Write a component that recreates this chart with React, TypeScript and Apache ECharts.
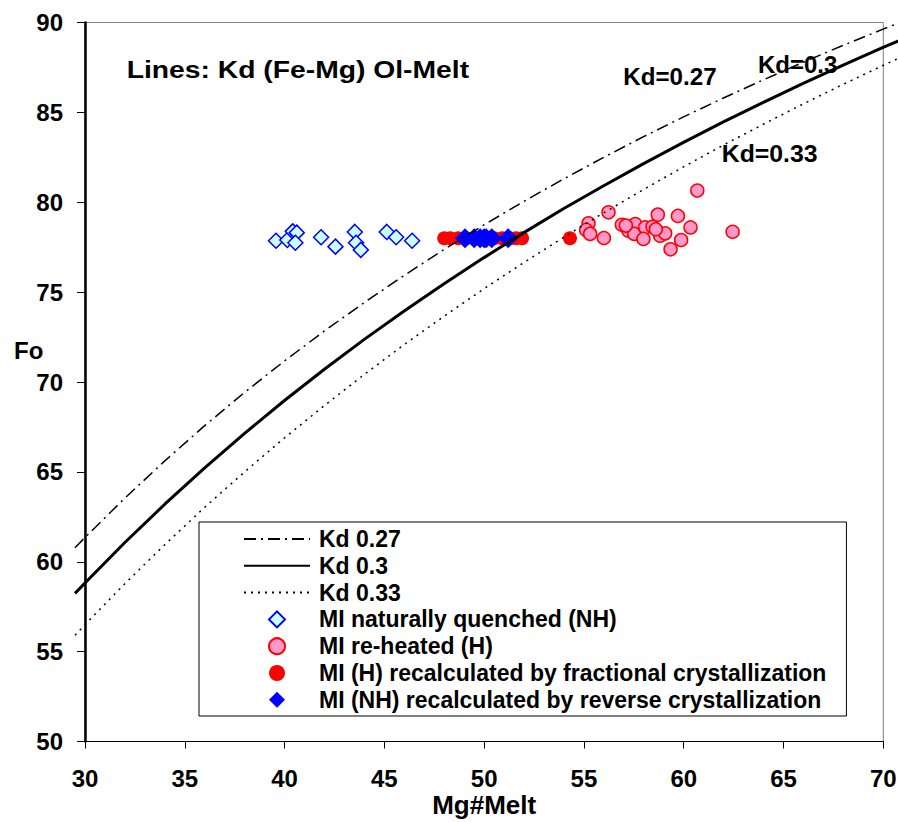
import React, { useEffect, useRef } from "react";
import * as echarts from "echarts";

// Model curves (Fo vs Mg# melt)
const kdX = [29.5, 30, 32, 34, 36, 38, 40, 42, 44, 46, 48, 50, 52, 54, 56, 58, 60, 62, 64, 66, 68, 70, 72];
const kd027 = [60.78, 61.35, 63.54, 65.61, 67.57, 69.42, 71.17, 72.84, 74.42, 75.93, 77.37, 78.74, 80.05, 81.3, 82.5, 83.65, 84.75, 85.8, 86.81, 87.79, 88.73, 89.63, 90.5];
const kd030 = [58.24, 58.82, 61.07, 63.2, 65.22, 67.14, 68.97, 70.71, 72.37, 73.95, 75.47, 76.92, 78.31, 79.65, 80.92, 82.15, 83.33, 84.47, 85.56, 86.61, 87.63, 88.61, 89.55];
const kd033 = [55.91, 56.5, 58.78, 60.95, 63.03, 65.0, 66.89, 68.69, 70.42, 72.08, 73.66, 75.19, 76.65, 78.06, 79.41, 80.71, 81.97, 83.18, 84.34, 85.47, 86.56, 87.61, 88.63];

// MI naturally quenched (NH)
const nhX = [39.57, 40.14, 40.41, 40.61, 40.54, 41.83, 42.55, 43.52, 43.58, 43.82, 45.12, 45.59, 46.39];
const nhY = [77.86, 77.9, 78.38, 78.31, 77.75, 78.05, 77.53, 78.35, 77.75, 77.35, 78.35, 78.05, 77.86];

// MI re-heated (H)
const hX = [60.68, 56.23, 55.23, 55.11, 55.31, 56.0, 56.9, 57.23, 57.57, 57.52, 58.07, 57.98, 58.7, 58.44, 58.82, 59.07, 59.34, 59.71, 59.87, 60.34, 62.45, 58.6, 57.1];
const hY = [80.65, 79.44, 78.83, 78.46, 78.24, 78.01, 78.75, 78.42, 78.79, 78.24, 78.6, 77.96, 79.31, 78.64, 78.14, 78.27, 77.38, 79.24, 77.9, 78.6, 78.36, 78.5, 78.7];

// MI (H) recalculated by fractional crystallization
const hRecX = [48.0, 48.3, 48.7, 49.1, 49.6, 50.0, 50.5, 50.9, 51.3, 51.6, 51.9, 54.3];
const hRecY = [78, 78, 78, 78, 78, 78, 78, 78, 78, 78, 78, 78];

// MI (NH) recalculated by reverse crystallization
const nhRecX = [49.04, 49.5, 49.8, 50.0, 50.1, 50.38, 51.2];
const nhRecY = [78, 78, 78, 78, 78, 78, 78];

const xMin = 30, xMax = 70, xStep = 5;
const yMin = 50, yMax = 90, yStep = 5;
// the Kd curves run a little past the plot frame on both sides
const curveXMin = 29.5, curveXMax = 70.75;

const FONT = "'Liberation Sans', Arial, sans-serif";
const DIAMOND_ICON = "path://M0,-1L1,0L0,1L-1,0Z";

const zip = (a: number[], b: number[]) => a.map((v, i) => [v, b[i]]);

export default function App() {
  const ref = useRef<HTMLDivElement>(null);
  useEffect(() => {
    if (!ref.current) return;
    const chart = echarts.init(ref.current, null, { renderer: "svg" });
    const txt = { color: "#000", fontWeight: "bold" as const, fontFamily: FONT };
    const hiddenLegendSymbol = { color: "rgba(0,0,0,0)", borderWidth: 0, opacity: 0 };
    const textEl = (text: string, x: number, y: number, fontSize: number, scaleX = 1) => ({
      type: "text",
      x,
      y,
      scaleX,
      z: 10,
      style: { text, fontSize, fontWeight: "bold", fontFamily: FONT, fill: "#000", verticalAlign: "middle", align: "left" },
    });
    chart.setOption({
      animation: false,
      backgroundColor: "#fff",
      grid: [
        {
          left: 85,
          right: 14.7,
          top: 22.5,
          bottom: 80.5,
          show: true,
          borderColor: "#808080",
          borderWidth: 1,
          containLabel: false,
          outerBoundsMode: "none",
        },
        { left: 75, right: 0, top: 22.5, bottom: 80.5, show: false, containLabel: false, outerBoundsMode: "none" },
      ],
      xAxis: [
        {
          type: "value",
          gridIndex: 0,
          min: xMin,
          max: xMax,
          interval: xStep,
          name: "Mg#Melt",
          nameLocation: "middle",
          nameGap: 50,
          nameMoveOverlap: false,
          nameTextStyle: { ...txt, fontSize: 26, lineHeight: 26 },
          axisLine: { show: true, lineStyle: { color: "#000", width: 1 } },
          axisTick: { show: true, length: 7, lineStyle: { color: "#000" } },
          axisLabel: { ...txt, fontSize: 24, lineHeight: 24, margin: 25 },
          splitLine: { show: false },
          z: 5,
        },
        {
          type: "value",
          gridIndex: 1,
          min: curveXMin,
          max: curveXMax,
          show: false,
          splitLine: { show: false },
        },
      ],
      yAxis: [
        {
          type: "value",
          gridIndex: 0,
          min: yMin,
          max: yMax,
          interval: yStep,
          axisLine: { show: true, lineStyle: { color: "#000", width: 2.5 } },
          axisTick: { show: true, length: 8, lineStyle: { color: "#000" } },
          axisLabel: { ...txt, fontSize: 24, margin: 22 },
          splitLine: { show: false },
          z: 5,
        },
        {
          type: "value",
          gridIndex: 1,
          min: yMin,
          max: yMax,
          show: false,
          splitLine: { show: false },
        },
      ],
      legend: {
        orient: "vertical",
        left: 199,
        top: 522,
        padding: [3.6, 20, 2.8, 44],
        itemWidth: 66,
        itemHeight: 16,
        itemGap: 0,
        symbolKeepAspect: true,
        borderColor: "#000",
        borderWidth: 1,
        backgroundColor: "#fff",
        textStyle: { ...txt, fontSize: 23, lineHeight: 26.8, padding: [0, 0, 0, 4] },
        data: [
          { name: "Kd 0.27", itemStyle: hiddenLegendSymbol },
          { name: "Kd 0.3", itemStyle: hiddenLegendSymbol },
          { name: "Kd 0.33", itemStyle: hiddenLegendSymbol },
          { name: "MI naturally quenched (NH)", icon: DIAMOND_ICON },
          { name: "MI re-heated (H)" },
          { name: "MI (H) recalculated by fractional crystallization" },
          { name: "MI (NH) recalculated by reverse crystallization", icon: DIAMOND_ICON },
        ],
      },
      graphic: [
        textEl("Lines: Kd (Fe-Mg) Ol-Melt", 126.7, 70, 23, 1.23),
        textEl("Kd=0.27", 623.3, 77, 23, 1.05),
        textEl("Kd=0.3", 758, 64.5, 24),
        textEl("Kd=0.33", 721.7, 154.3, 23, 1.08),
        textEl("Fo", 14, 350, 24),
      ],
      series: [
        {
          name: "Kd 0.27",
          type: "line",
          xAxisIndex: 1,
          yAxisIndex: 1,
          data: zip(kdX, kd027),
          symbol: "none",
          silent: true,
          lineStyle: { color: "#000", width: 1.5, type: [12, 5, 2, 5] },
          itemStyle: { color: "#000" },
        },
        {
          name: "Kd 0.3",
          type: "line",
          xAxisIndex: 1,
          yAxisIndex: 1,
          data: zip(kdX, kd030),
          symbol: "none",
          silent: true,
          lineStyle: { color: "#000", width: 3, type: "solid" },
          itemStyle: { color: "#000" },
        },
        {
          name: "Kd 0.33",
          type: "line",
          xAxisIndex: 1,
          yAxisIndex: 1,
          data: zip(kdX, kd033),
          symbol: "none",
          silent: true,
          lineStyle: { color: "#000", width: 1.5, type: [2, 5] },
          itemStyle: { color: "#000" },
        },
        {
          name: "MI naturally quenched (NH)",
          type: "scatter",
          data: zip(nhX, nhY),
          symbol: "diamond",
          symbolSize: 15,
          itemStyle: { color: "#ccffff", borderColor: "#0000ff", borderWidth: 1.5, opacity: 1 },
        },
        {
          name: "MI re-heated (H)",
          type: "scatter",
          data: zip(hX, hY),
          symbol: "circle",
          symbolSize: 13,
          itemStyle: { color: "#ff99cc", borderColor: "#ff0000", borderWidth: 1.5, opacity: 1 },
        },
        {
          name: "MI (H) recalculated by fractional crystallization",
          type: "scatter",
          data: zip(hRecX, hRecY),
          symbol: "circle",
          symbolSize: 14,
          itemStyle: { color: "#ff0000", opacity: 1 },
        },
        {
          name: "MI (NH) recalculated by reverse crystallization",
          type: "scatter",
          data: zip(nhRecX, nhRecY),
          symbol: "diamond",
          symbolSize: 20,
          itemStyle: { color: "#0000ff", opacity: 1 },
        },
      ],
    });
    return () => chart.dispose();
  }, []);
  return (
    <div
      ref={ref}
      style={{ position: "fixed", left: 0, top: 0, width: 898, height: 822, background: "#fff" }}
    />
  );
}
